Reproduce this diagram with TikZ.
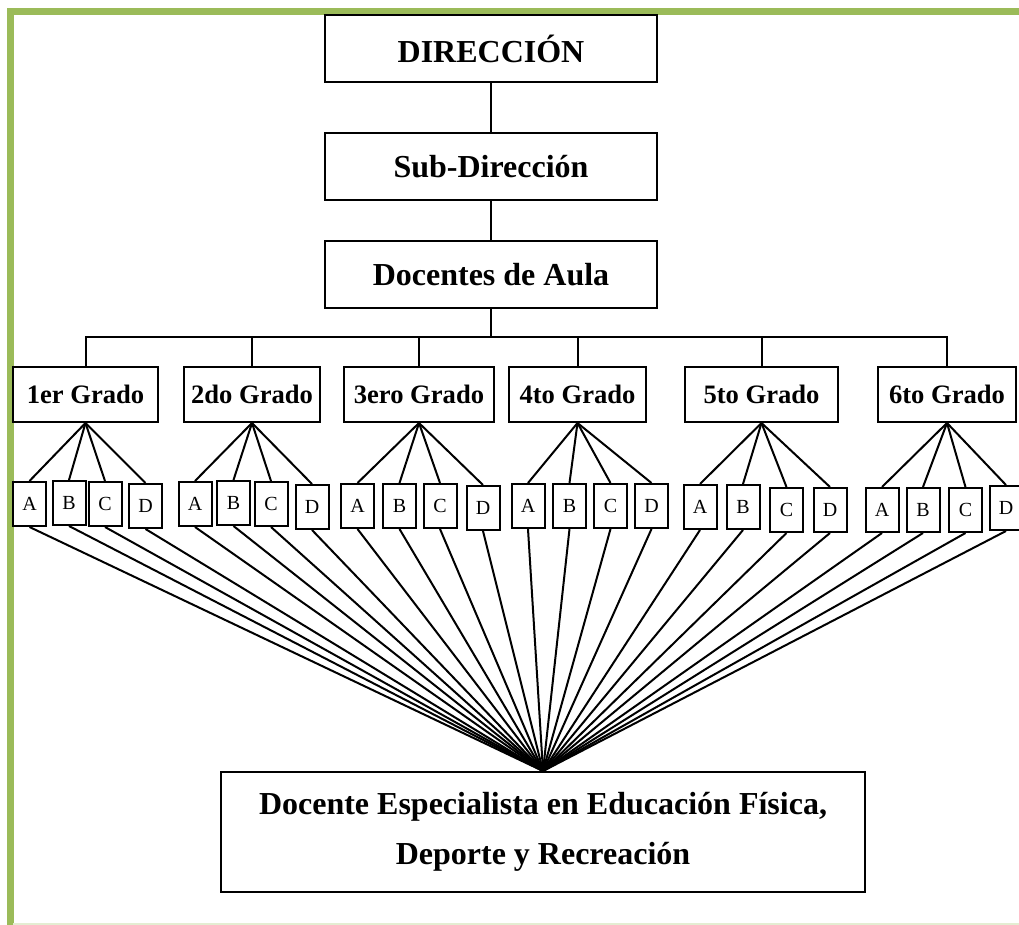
\documentclass[tikz,border=0pt]{standalone}
\usepackage{fontspec}
\setmainfont{Liberation Serif}
\definecolor{marco}{HTML}{9BBB59}
\definecolor{marcoclaro}{HTML}{E4EDD2}

\begin{document}
\begin{tikzpicture}[x=0.5pt, y=-0.5pt, line width=1pt,
    cargo/.style={draw, fill=white, inner sep=0pt, minimum width=166pt, minimum height=33.5pt, font=\fontsize{16}{19}\selectfont\bfseries},
    grado/.style={draw, fill=white, inner sep=0pt, minimum height=27.5pt, font=\fontsize{13.3}{16}\selectfont\bfseries},
    seccion/.style={draw, fill=white, inner sep=0pt, minimum width=16.5pt, minimum height=22pt, font=\fontsize{10}{12}\selectfont}]
    \useasboundingbox (0,0) rectangle (1019,925);

    % marco verde
    \draw[marco, line width=3.5pt] (10,925) -- (10,11.5) -- (1019,11.5);
    \draw[marcoclaro, line width=1pt] (13,924) -- (1019,924);

    \node[cargo] (direccion) at (491,48.5) {DIRECCIÓN};
    \node[cargo] (subdireccion) at (491,166.5) {Sub-Dirección};
    \node[cargo] (docentes) at (491,275) {Docentes de Aula};
    \draw (direccion) -- (subdireccion);
    \draw (subdireccion) -- (docentes);

    \node[grado, minimum width=72.5pt] (g1) at (85.5,394.5) {1er Grado};
    \node[grado, minimum width=68pt] (g2) at (252,394.5) {2do Grado};
    \node[grado, minimum width=75pt] (g3) at (419,394.5) {3ero Grado};
    \node[grado, minimum width=68.5pt] (g4) at (577.5,394.5) {4to Grado};
    \node[grado, minimum width=76.5pt] (g5) at (761.5,394.5) {5to Grado};
    \node[grado, minimum width=69pt] (g6) at (947,394.5) {6to Grado};

    \coordinate (bus) at (491,337);
    \draw (docentes.south) -- (bus);
    \draw (g1.north) -- (g1.north |- bus) -- (g6.north |- bus) -- (g6.north);
    \draw (g2.north) -- (g2.north |- bus);
    \draw (g3.north) -- (g3.north |- bus);
    \draw (g4.north) -- (g4.north |- bus);
    \draw (g5.north) -- (g5.north |- bus);

    \node[seccion] (g1A) at (29.5,504) {A};
    \node[seccion] (g1B) at (69,503) {B};
    \node[seccion] (g1C) at (105,504) {C};
    \node[seccion] (g1D) at (145.5,506) {D};
    \node[seccion] (g2A) at (195,504) {A};
    \node[seccion] (g2B) at (233.5,503) {B};
    \node[seccion] (g2C) at (271,504) {C};
    \node[seccion] (g2D) at (312,507) {D};
    \node[seccion] (g3A) at (357.5,506) {A};
    \node[seccion] (g3B) at (399.5,506) {B};
    \node[seccion] (g3C) at (440,506) {C};
    \node[seccion] (g3D) at (483,508) {D};
    \node[seccion] (g4A) at (528,506) {A};
    \node[seccion] (g4B) at (569.5,506) {B};
    \node[seccion] (g4C) at (610.5,506) {C};
    \node[seccion] (g4D) at (651.5,506) {D};
    \node[seccion] (g5A) at (700,507) {A};
    \node[seccion] (g5B) at (743,507) {B};
    \node[seccion] (g5C) at (786.5,510) {C};
    \node[seccion] (g5D) at (830,510) {D};
    \node[seccion] (g6A) at (882,510) {A};
    \node[seccion] (g6B) at (923,510) {B};
    \node[seccion] (g6C) at (965.5,510) {C};
    \node[seccion] (g6D) at (1006,508) {D};

    \draw (g1.south) edge (g1A.north) edge (g1B.north) edge (g1C.north) edge (g1D.north);
    \draw (g2.south) edge (g2A.north) edge (g2B.north) edge (g2C.north) edge (g2D.north);
    \draw (g3.south) edge (g3A.north) edge (g3B.north) edge (g3C.north) edge (g3D.north);
    \draw (g4.south) edge (g4A.north) edge (g4B.north) edge (g4C.north) edge (g4D.north);
    \draw (g5.south) edge (g5A.north) edge (g5B.north) edge (g5C.north) edge (g5D.north);
    \draw (g6.south) edge (g6A.north) edge (g6B.north) edge (g6C.north) edge (g6D.north);

    \node[draw, fill=white, inner sep=0pt, minimum width=322pt, minimum height=60pt, align=center,
          font=\fontsize{16}{25}\selectfont\bfseries] (especialista) at (543,832)
          {Docente Especialista en Educación Física,\\Deporte y Recreación};

    \draw (especialista.north) edge (g1A.south) edge (g1B.south) edge (g1C.south) edge (g1D.south);
    \draw (especialista.north) edge (g2A.south) edge (g2B.south) edge (g2C.south) edge (g2D.south);
    \draw (especialista.north) edge (g3A.south) edge (g3B.south) edge (g3C.south) edge (g3D.south);
    \draw (especialista.north) edge (g4A.south) edge (g4B.south) edge (g4C.south) edge (g4D.south);
    \draw (especialista.north) edge (g5A.south) edge (g5B.south) edge (g5C.south) edge (g5D.south);
    \draw (especialista.north) edge (g6A.south) edge (g6B.south) edge (g6C.south) edge (g6D.south);
  \end{tikzpicture}
\end{document}
